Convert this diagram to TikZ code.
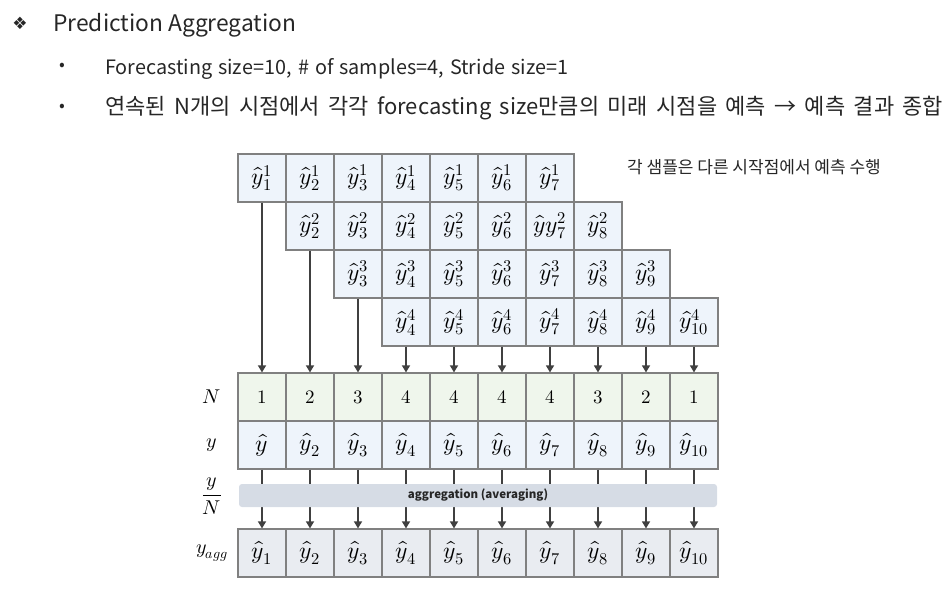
\documentclass[tikz,border=0pt]{standalone}
\usepackage{fontspec}
\usepackage{unicode-math}
\setmathfont{Latin Modern Math}
\usetikzlibrary{arrows.meta}
\newfontfamily\krfont{Noto Sans CJK KR}
\newfontfamily\symfont{DejaVu Sans}
\definecolor{cellblue}{RGB}{238,244,251}
\definecolor{cellgreen}{RGB}{239,246,236}
\definecolor{cellgray}{RGB}{233,236,241}
\definecolor{barfill}{RGB}{214,220,229}
\definecolor{cellline}{RGB}{128,128,128}
\definecolor{arrowgray}{RGB}{64,64,64}
\definecolor{textgray}{RGB}{38,38,38}
\tikzset{
  cell/.style={draw=cellline, line width=1.2pt, minimum width=48pt, minimum height=48pt,
    inner sep=0pt, font=\fontsize{23.5}{23.5}\selectfont},
  predcell/.style={cell, fill=cellblue},
  countcell/.style={cell, fill=cellgreen, font=\fontsize{19}{19}\selectfont},
  aggcell/.style={cell, fill=cellgray},
  flow/.style={draw=arrowgray, line width=1.5pt, -{Triangle[length=7pt,width=8pt]}},
  rowlabel/.style={font=\fontsize{20}{20}\selectfont},
  bodytext/.style={anchor=base west, inner sep=0pt, text=textgray},
}
\begin{document}
\begin{tikzpicture}[x=1pt,y=-1pt]
\useasboundingbox (0,0) rectangle (948,589);
\node[text=textgray, font=\symfont\fontsize{17}{17}\selectfont] (titlemark) at (20,23) {❖};
\node[bodytext, font=\krfont\fontsize{22.8}{22.8}\selectfont] (title) at (53,31) {Prediction Aggregation};
\node[text=textgray, font=\krfont\fontsize{17}{17}\selectfont] (bul1) at (62,67) {•};
\node[bodytext, font=\krfont\fontsize{19.8}{19.8}\selectfont] (line1) at (105,74)
  {\makebox[463pt][s]{Forecasting size=10, \# of samples=4, Stride size=1}};
\node[text=textgray, font=\krfont\fontsize{17}{17}\selectfont] (bul2) at (62,108) {•};
\node[bodytext, font=\krfont\fontsize{22}{22}\selectfont] (line2) at (105,114)
  {\makebox[838pt][s]{연속된 N개의 시점에서 각각 forecasting size만큼의 미래 시점을 예측 → 예측 결과 종합}};
\node[anchor=west, inner sep=0pt, text=textgray, font=\krfont\fontsize{17}{17}\selectfont] (note) at (627,167) {각 샘플은 다른 시작점에서 예측 수행};
\foreach \k in {1,...,4}{
  \pgfmathtruncatemacro\last{\k+6}
  \foreach \i in {\k,...,\last}
    \node[predcell] (s\k-\i) at ({262+48*(\i-1)},{178+48*(\k-1)})
      {\ifnum\k\i=27 $\hat{y}y^{2}_{7}$\else $\hat{y}^{\k}_{\i}$\fi};
}
\foreach \n [count=\i] in {1,2,3,4,4,4,4,3,2,1}
  \node[countcell] (n\i) at ({262+48*(\i-1)},397) {$\n$};
\foreach \i in {1,...,10}{
  \node[predcell] (y\i) at ({262+48*(\i-1)},445) {\ifnum\i=1 $\hat{y}$\else $\hat{y}_{\i}$\fi};
  \node[aggcell] (agg\i) at ({262+48*(\i-1)},553) {$\hat{y}_{\i}$};
  \pgfmathtruncatemacro\low{min(\i,4)}
  \draw[flow] (s\low-\i.south) -- (n\i.north);
  \draw[flow] (y\i.south) -- (agg\i.north);
}
\node[fill=barfill, rounded corners=3pt, minimum width=478pt, minimum height=23pt, inner sep=0pt,
  text=textgray, font=\krfont\bfseries\fontsize{11.5}{11.5}\selectfont] (bar) at (478,495.5) {aggregation (averaging)};
\node[rowlabel] (labn) at (212,397) {$N$};
\node[rowlabel] (laby) at (212,445) {$y$};
\node[rowlabel] (labfrac) at (212,496) {$\dfrac{y}{N}$};
\node[rowlabel] (labagg) at (212,553) {$y_{agg}$};
\end{tikzpicture}
\end{document}
